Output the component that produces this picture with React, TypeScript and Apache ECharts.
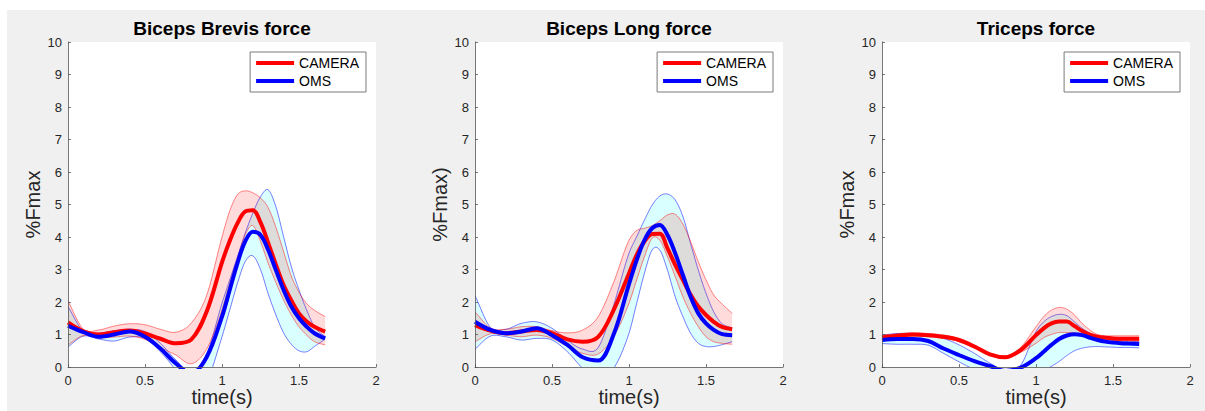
import React, { useEffect, useRef } from "react";
import * as echarts from "echarts";

const time = [0, 0.1, 0.2, 0.3, 0.4, 0.5, 0.6, 0.7, 0.8, 0.9, 1.0, 1.05, 1.1, 1.15, 1.2, 1.25, 1.3, 1.35, 1.4, 1.45, 1.5, 1.55, 1.6, 1.67];
const xTicks = [0, 0.5, 1, 1.5, 2];
const yTicks = [0, 1, 2, 3, 4, 5, 6, 7, 8, 9, 10];

// Biceps Brevis
const cm1 = [1.37, 1.10, 1.00, 1.07, 1.12, 1.03, 0.87, 0.73, 0.84, 1.70, 3.22, 3.88, 4.42, 4.78, 4.82, 4.45, 3.82, 3.15, 2.52, 2.05, 1.65, 1.40, 1.24, 1.09];
const cu1 = [2.03, 1.16, 1.14, 1.26, 1.33, 1.30, 1.16, 1.07, 1.35, 2.20, 4.00, 4.80, 5.30, 5.42, 5.36, 5.20, 4.90, 4.30, 3.55, 2.80, 2.30, 1.95, 1.75, 1.55];
const cl1 = [0.68, 0.97, 0.90, 0.92, 0.95, 0.85, 0.60, 0.37, 0.10, 0.55, 1.75, 2.57, 3.34, 4.06, 4.35, 3.86, 3.19, 2.60, 2.06, 1.60, 1.24, 0.98, 0.78, 0.68];
const bm1 = [1.27, 1.07, 0.93, 1.00, 1.09, 0.93, 0.57, 0.11, -0.20, 0.30, 1.55, 2.37, 3.19, 3.86, 4.16, 4.06, 3.60, 2.98, 2.37, 1.86, 1.50, 1.24, 1.04, 0.88];
const bu1 = [1.86, 1.09, 1.04, 1.12, 1.16, 1.09, 0.73, 0.22, -0.15, 0.40, 1.96, 2.68, 3.39, 4.11, 4.73, 5.24, 5.45, 4.93, 4.01, 3.09, 2.37, 1.75, 1.24, 0.93];
const bl1 = [0.62, 0.95, 0.86, 0.80, 0.92, 0.88, 0.47, -0.10, -0.80, -0.45, 0.93, 1.75, 2.57, 3.24, 3.42, 3.00, 2.25, 1.60, 1.05, 0.70, 0.50, 0.47, 0.63, 0.86];

// Biceps Long
const cm2 = [1.29, 1.12, 1.04, 1.09, 1.14, 1.04, 0.85, 0.78, 0.93, 1.75, 2.88, 3.45, 3.86, 4.09, 4.10, 3.65, 3.14, 2.68, 2.22, 1.86, 1.60, 1.39, 1.24, 1.16];
const cu2 = [1.70, 1.20, 1.16, 1.24, 1.24, 1.12, 1.05, 1.14, 1.55, 2.60, 3.90, 4.20, 4.27, 4.35, 4.50, 4.68, 4.70, 4.40, 3.86, 3.24, 2.68, 2.22, 1.96, 1.65];
const cl2 = [0.78, 1.02, 0.98, 0.93, 0.98, 0.88, 0.63, 0.42, 0.40, 0.93, 1.96, 2.68, 3.39, 3.96, 3.90, 3.39, 2.78, 2.16, 1.65, 1.24, 0.93, 0.78, 0.73, 0.70];
const bm2 = [1.39, 1.14, 1.04, 1.09, 1.19, 0.98, 0.68, 0.30, 0.20, 1.00, 2.55, 3.29, 3.90, 4.27, 4.37, 4.06, 3.50, 2.83, 2.16, 1.65, 1.34, 1.14, 1.02, 0.98];
const bu2 = [2.20, 1.22, 1.16, 1.34, 1.39, 1.19, 0.82, 0.55, 0.60, 1.90, 3.50, 4.01, 4.52, 4.98, 5.26, 5.32, 5.14, 4.63, 3.80, 2.98, 2.27, 1.70, 1.35, 1.20];
const bl2 = [0.55, 0.95, 0.93, 0.83, 0.88, 0.83, 0.47, -0.05, -0.45, -0.05, 1.04, 1.96, 2.88, 3.60, 3.60, 2.98, 2.16, 1.55, 1.04, 0.73, 0.63, 0.63, 0.68, 0.78];

// Triceps
const cm3 = [0.91, 0.96, 1.00, 0.98, 0.93, 0.83, 0.63, 0.39, 0.30, 0.52, 0.98, 1.19, 1.34, 1.40, 1.40, 1.26, 1.11, 1.00, 0.93, 0.90, 0.88, 0.87, 0.87, 0.87];
const cu3 = [0.98, 1.02, 1.05, 1.03, 0.98, 0.88, 0.68, 0.43, 0.33, 0.60, 1.24, 1.55, 1.75, 1.83, 1.78, 1.60, 1.34, 1.14, 1.00, 0.96, 0.96, 0.96, 0.96, 0.96];
const cl3 = [0.84, 0.90, 0.95, 0.93, 0.88, 0.78, 0.58, 0.35, 0.27, 0.45, 0.73, 0.90, 1.00, 1.06, 1.06, 1.04, 0.96, 0.90, 0.85, 0.82, 0.80, 0.80, 0.80, 0.80];
const bm3 = [0.83, 0.86, 0.86, 0.80, 0.57, 0.37, 0.18, 0.03, -0.12, -0.02, 0.27, 0.47, 0.68, 0.86, 0.97, 1.01, 0.98, 0.90, 0.83, 0.78, 0.75, 0.73, 0.72, 0.71];
const bu3 = [0.98, 1.03, 1.03, 0.98, 0.88, 0.68, 0.42, 0.12, -0.10, 0.05, 1.09, 1.39, 1.55, 1.62, 1.58, 1.39, 1.19, 1.04, 0.93, 0.87, 0.83, 0.80, 0.79, 0.78];
const bl3 = [0.72, 0.70, 0.70, 0.67, 0.42, 0.16, -0.08, -0.30, -0.45, -0.40, -0.22, -0.10, 0.02, 0.17, 0.35, 0.50, 0.58, 0.62, 0.63, 0.62, 0.61, 0.60, 0.60, 0.59];

const titles = ["Biceps Brevis force", "Biceps Long force", "Triceps force"];
const yNames = ["%Fmax", "%Fmax)", "%Fmax"];
const xName = "time(s)";
const seriesNames = ["CAMERA", "OMS"];

const panels = [
  { cm: cm1, cu: cu1, cl: cl1, bm: bm1, bu: bu1, bl: bl1 },
  { cm: cm2, cu: cu2, cl: cl2, bm: bm2, bu: bu2, bl: bl2 },
  { cm: cm3, cu: cu3, cl: cl3, bm: bm3, bu: bu3, bl: bl3 },
];

const W = 1205;
const H = 411;
const gridLefts = [68, 475, 882];
const gridWidth = 308;
const gridTop = 42;
const gridHeight = 325;
const FONT = "'Liberation Sans', Arial, Helvetica, sans-serif";
const AX = "#262626";
const RED = "#ff0000";
const BLUE = "#0000ff";
const SMOOTH = 0.35;

const pts = (ys: number[]) => time.map((t, i) => [t, ys[i]]);

// cubic Hermite curve through the read points (rendering only)
function curve(vs: number[], steps: number): number[][] {
  const n = time.length;
  const slope = (i: number) => {
    if (i === 0) return (vs[1] - vs[0]) / (time[1] - time[0]);
    if (i === n - 1) return (vs[n - 1] - vs[n - 2]) / (time[n - 1] - time[n - 2]);
    const a = (vs[i] - vs[i - 1]) / (time[i] - time[i - 1]);
    const b = (vs[i + 1] - vs[i]) / (time[i + 1] - time[i]);
    return (a + b) / 2;
  };
  const out: number[][] = [];
  for (let i = 0; i < n - 1; i++) {
    const h = time[i + 1] - time[i];
    const m0 = slope(i) * h;
    const m1 = slope(i + 1) * h;
    for (let k = 0; k < steps; k++) {
      const s = k / steps;
      const s2 = s * s;
      const s3 = s2 * s;
      const v =
        (2 * s3 - 3 * s2 + 1) * vs[i] +
        (s3 - 2 * s2 + s) * m0 +
        (-2 * s3 + 3 * s2) * vs[i + 1] +
        (s3 - s2) * m1;
      out.push([time[i] + s * h, v]);
    }
  }
  out.push([time[n - 1], vs[n - 1]]);
  return out;
}

function bandSeries(g: number, lo: number[], up: number[], fill: string, stroke: string) {
  return {
    type: "custom",
    xAxisIndex: g,
    yAxisIndex: g,
    clip: true,
    silent: true,
    encode: { x: 0, y: [1, 2] },
    data: time.map((t, i) => [t, lo[i], up[i]]),
    renderItem: (params: any, api: any) => {
      if (params.dataIndex !== 0) return null;
      const upper = curve(up, 10).map((p) => api.coord(p));
      const lower = curve(lo, 10).map((p) => api.coord(p));
      const poly = upper.concat(lower.slice().reverse());
      return {
        type: "group",
        children: [
          { type: "polygon", shape: { points: poly }, style: { fill, stroke: null } },
          { type: "polyline", shape: { points: upper }, style: { fill: null, stroke, lineWidth: 0.8 } },
          { type: "polyline", shape: { points: lower }, style: { fill: null, stroke, lineWidth: 0.8 } },
        ],
      };
    },
  };
}

export default function App() {
  const ref = useRef<HTMLDivElement>(null);
  useEffect(() => {
    if (!ref.current) return;
    const chart = echarts.init(ref.current, null, { renderer: "svg" });

    const grid = gridLefts.map((l) => ({
      left: l,
      top: gridTop,
      width: gridWidth,
      height: gridHeight,
      show: true,
      backgroundColor: "#ffffff",
      borderWidth: 0,
      containLabel: false,
      outerBoundsMode: "none",
    }));

    const xAxis = gridLefts.map((_, g) => ({
      type: "value",
      gridIndex: g,
      min: xTicks[0],
      max: xTicks[xTicks.length - 1],
      interval: 0.5,
      axisLine: { show: true, onZero: false, lineStyle: { color: "#555", width: 0.8 } },
      axisTick: { show: true, inside: true, length: 3, lineStyle: { color: "#555", width: 0.8 } },
      axisLabel: { fontSize: 13, color: AX, fontFamily: FONT, margin: 7 },
      splitLine: { show: false },
      z: 5,
    }));

    const yAxis = gridLefts.map((_, g) => ({
      type: "value",
      gridIndex: g,
      min: yTicks[0],
      max: yTicks[yTicks.length - 1],
      interval: 1,
      name: yNames[g],
      nameLocation: "middle",
      nameGap: 25,
      nameTextStyle: { fontSize: 20, color: AX, fontFamily: FONT },
      axisLine: { show: true, onZero: false, lineStyle: { color: "#555", width: 0.8 } },
      axisTick: { show: true, inside: true, length: 3, lineStyle: { color: "#555", width: 0.8 } },
      axisLabel: { fontSize: 13, color: AX, fontFamily: FONT, margin: 6 },
      splitLine: { show: false },
      z: 5,
    }));

    const series: any[] = [];
    panels.forEach((p, g) => {
      series.push(bandSeries(g, p.bl, p.bu, "rgba(0,255,255,0.15)", "rgba(0,0,255,0.65)"));
      series.push(bandSeries(g, p.cl, p.cu, "rgba(255,0,0,0.14)", "rgba(255,0,0,0.6)"));
      const common = {
        type: "line",
        xAxisIndex: g,
        yAxisIndex: g,
        symbol: "none",
        showSymbol: false,
        smooth: SMOOTH,
        clip: true,
        silent: true,
      };
      series.push({
        ...common,
        name: seriesNames[0],
        data: pts(p.cm),
        itemStyle: { color: RED },
        lineStyle: { color: RED, width: 4 },
      });
      series.push({
        ...common,
        name: seriesNames[1],
        data: pts(p.bm),
        itemStyle: { color: BLUE },
        lineStyle: { color: BLUE, width: 4 },
      });
    });

    const legend = gridLefts.map((l) => ({
      data: [
        { name: seriesNames[0], icon: "rect", itemStyle: { color: RED } },
        { name: seriesNames[1], icon: "rect", itemStyle: { color: BLUE } },
      ],
      orient: "vertical",
      right: W - (l + gridWidth) + 10,
      top: gridTop + 10,
      itemWidth: 38,
      itemHeight: 4,
      itemGap: 2,
      padding: [3, 7, 3, 6],
      backgroundColor: "#ffffff",
      borderColor: "#7a7a7a",
      borderWidth: 1,
      borderRadius: 0,
      selectedMode: false,
      textStyle: { fontSize: 14, color: "#000", fontFamily: FONT, lineHeight: 16 },
    }));

    const graphic: any[] = [
      { type: "rect", shape: { x: 0, y: 0, width: W, height: 10 }, style: { fill: "#ffffff" }, silent: true },
      { type: "rect", shape: { x: 0, y: 0, width: 7, height: H }, style: { fill: "#ffffff" }, silent: true },
      ...titles.map((t, g) => ({
        type: "text",
        x: gridLefts[g] + gridWidth / 2,
        y: 28,
        style: {
          text: t,
          fill: "#000",
          font: `bold 19px ${FONT}`,
          textAlign: "center",
          textVerticalAlign: "middle",
        },
        silent: true,
      })),
      ...gridLefts.map((l) => ({
        type: "text",
        x: l + gridWidth / 2,
        y: 397,
        style: {
          text: xName,
          fill: AX,
          font: `20px ${FONT}`,
          textAlign: "center",
          textVerticalAlign: "middle",
        },
        silent: true,
      })),
    ];

    chart.setOption({
      animation: false,
      backgroundColor: "#f0f0f0",
      grid,
      xAxis,
      yAxis,
      legend,
      series,
      graphic,
    });
    return () => chart.dispose();
  }, []);

  return (
    <div
      ref={ref}
      style={{ position: "fixed", left: 0, top: 0, width: W, height: H }}
    />
  );
}
